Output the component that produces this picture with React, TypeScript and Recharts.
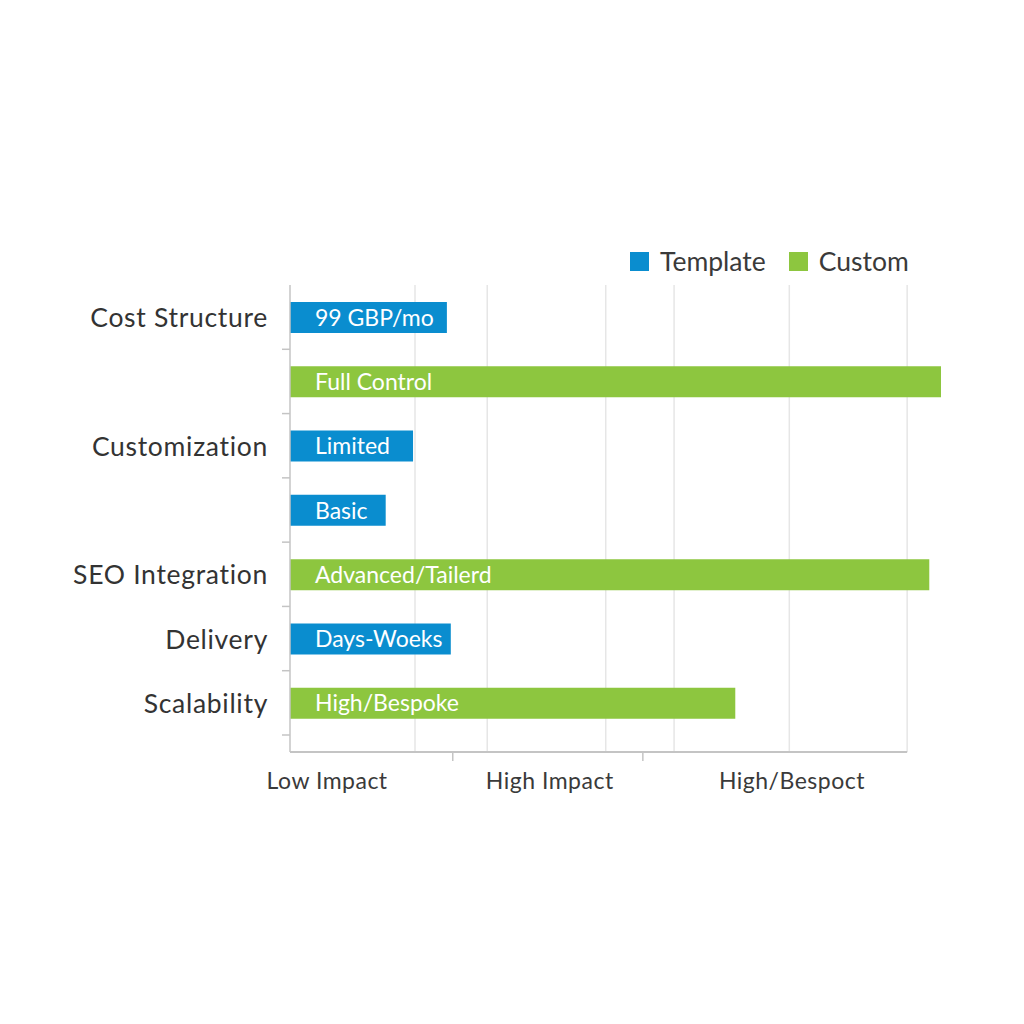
import React from 'react';
import { BarChart, Bar, XAxis, YAxis, CartesianGrid, ReferenceArea, Legend, LabelList } from 'recharts';

const FONT = 'Lato, "Open Sans", sans-serif';
const BLUE = '#0A8DCF';
const GREEN = '#8DC63F';
const PAD_BOTTOM = 17;

const seriesNames = ['Template', 'Custom'];
const rowKeys = ['r1', 'r2', 'r3', 'r4', 'r5', 'r6', 'r7'];
const rowLabels = ['Cost Structure', '', 'Customization', '', 'SEO Integration', 'Delivery', 'Scalability'];
const templateValues = [24.1, null, 18.9, 14.7, null, 24.7, null];
const customValues = [null, 100, null, null, 98.2, null, 68.4];
const templateTexts = ['99 GBP/mo', null, 'Limited', 'Basic', null, 'Days-Woeks', null];
const customTexts = [null, 'Full Control', null, null, 'Advanced/Tailerd', null, 'High/Bespoke'];
const xTickValues = [5.7, 25.0, 39.9, 54.2, 77.1];
const xTickLabels = ['Low Impact', '', 'High Impact', '', 'High/Bespoct'];
const gridValues = [19.2, 30.3, 48.5, 59.0, 76.7, 94.8];
const axisEnd = 94.8;

const data = rowKeys.map((row, i) => ({
  row,
  template: templateValues[i],
  custom: customValues[i],
  templateText: templateTexts[i],
  customText: customTexts[i],
}));

const YTick = (props: any) => {
  const { x, y, payload, index } = props;
  const half = payload && payload.offset ? payload.offset : 32;
  const label = rowLabels[index] ?? '';
  return (
    <g>
      {label ? (
        <text x={x - 22} y={y} textAnchor="end" dominantBaseline="central" fontFamily={FONT} fontSize={26.5} letterSpacing={0.7} fill="#333">
          {label}
        </text>
      ) : null}
      <line x1={x - 8} x2={x} y1={y + half} y2={y + half} stroke="#c4c4c4" strokeWidth={1.5} />
    </g>
  );
};

const XTick = (props: any) => {
  const { x, y, payload } = props;
  const idx = xTickValues.indexOf(payload.value);
  const label = idx >= 0 ? xTickLabels[idx] : '';
  if (!label) {
    return <line x1={x} x2={x} y1={y} y2={y + 9} stroke="#c4c4c4" strokeWidth={1.5} />;
  }
  return (
    <text x={x} y={y + 37} textAnchor="middle" fontFamily={FONT} fontSize={23} letterSpacing={0.5} fill="#3a3a3a">
      {label}
    </text>
  );
};

const AxisBottomLine = (props: any) => {
  const { x, y, width, height } = props;
  const yy = y + height + PAD_BOTTOM;
  return <line x1={x} x2={x + width} y1={yy} y2={yy} stroke="#c4c4c4" strokeWidth={2} />;
};

const gridGenerator = (p: any) => {
  const s = p && p.xAxis && p.xAxis.scale;
  if (!s) return [];
  let f: ((v: number) => number) | null = null;
  if (typeof s === 'function') f = (v) => s(v);
  else if (typeof s.map === 'function') f = (v) => s.map(v);
  else if (typeof s.apply === 'function') f = (v) => s.apply(v);
  if (!f) return [];
  return gridValues.map((v) => f!(v)).filter((n) => typeof n === 'number' && !isNaN(n));
};

const renderLegend = (props: any) => {
  const payload = [...(props.payload || [])].sort(
    (a: any, b: any) => seriesNames.indexOf(a.value) - seriesNames.indexOf(b.value)
  );
  return (
    <div style={{ display: 'flex', alignItems: 'center', fontFamily: FONT, fontSize: 26.5, color: '#3a3a3a' }}>
      {payload.map((p: any, i: number) => (
        <div key={i} style={{ display: 'flex', alignItems: 'center', marginRight: 23 }}>
          <span style={{ width: 19, height: 19, background: p.color, display: 'inline-block', marginRight: 11 }} />
          <span>{p.value}</span>
        </div>
      ))}
    </div>
  );
};

export default function App() {
  return (
    <div style={{ position: 'absolute', left: 0, top: 0, width: 1024, height: 1024, background: '#fff' }}>
      <BarChart
        width={1024}
        height={1024}
        data={data}
        layout="vertical"
        margin={{ top: 285, right: 83, bottom: 212, left: 0 }}
      >
        <CartesianGrid horizontal={false} stroke="#e6e6e6" strokeWidth={1.5} verticalCoordinatesGenerator={gridGenerator} />
        <XAxis
          type="number"
          domain={[0, 100]}
          ticks={xTickValues}
          tick={<XTick />}
          tickLine={false}
          axisLine={false}
          tickSize={0}
          tickMargin={0}
          height={60}
          interval={0}
        />
        <YAxis
          type="category"
          dataKey="row"
          width={290}
          tick={<YTick />}
          tickLine={false}
          tickSize={0}
          tickMargin={0}
          axisLine={{ stroke: '#c4c4c4', strokeWidth: 1.5 }}
          padding={{ top: 0, bottom: PAD_BOTTOM }}
          interval={0}
        />
        <ReferenceArea x1={0} x2={axisEnd} fill="none" shape={AxisBottomLine} ifOverflow="visible" />
        <Legend
          verticalAlign="middle"
          align="center"
          wrapperStyle={{ top: 245, left: 630, width: 340 }}
          content={renderLegend}
        />
        <Bar dataKey="template" name="Template" stackId="a" fill={BLUE} barSize={31} isAnimationActive={false}>
          <LabelList dataKey="templateText" position="insideLeft" offset={25} fill="#fff" fontFamily={FONT} fontSize={23} />
        </Bar>
        <Bar dataKey="custom" name="Custom" stackId="a" fill={GREEN} barSize={31} isAnimationActive={false}>
          <LabelList dataKey="customText" position="insideLeft" offset={25} fill="#fff" fontFamily={FONT} fontSize={23} />
        </Bar>
      </BarChart>
    </div>
  );
}
